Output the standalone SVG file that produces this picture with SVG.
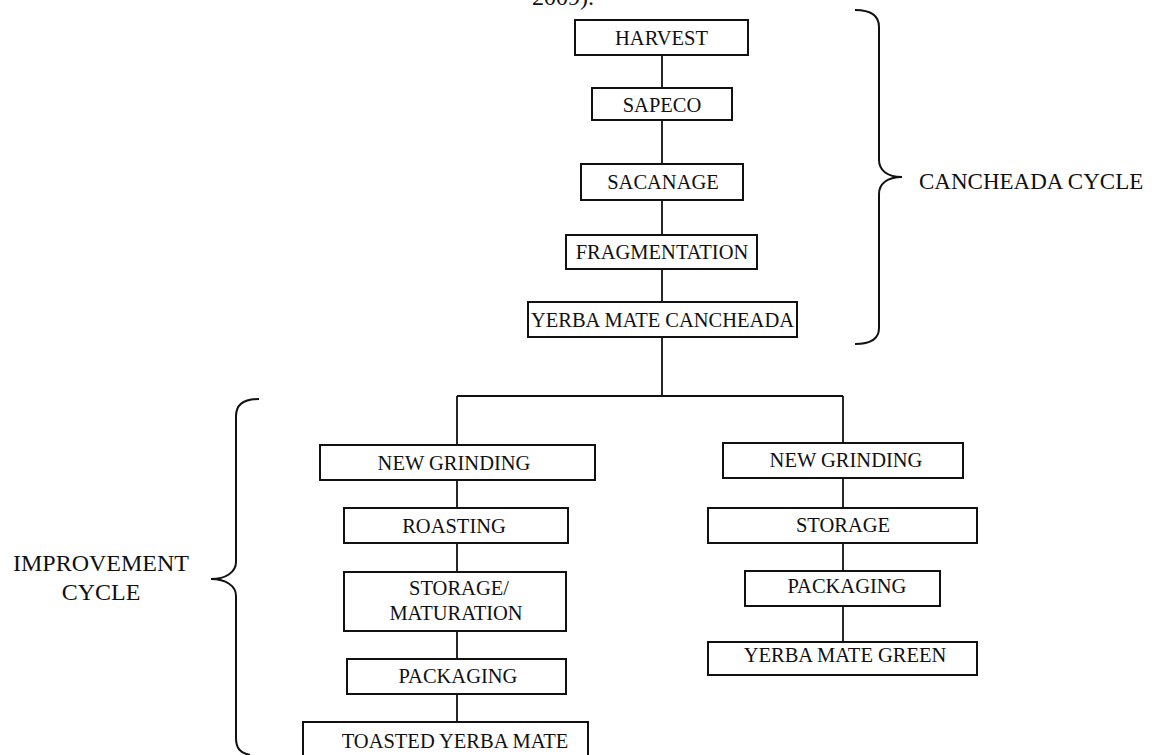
<svg xmlns="http://www.w3.org/2000/svg" width="1161" height="755" viewBox="0 0 1161 755">
<style>
text{font-family:"Liberation Serif","Times New Roman",serif;fill:#111;}
.n rect{fill:#fff;stroke:#111;stroke-width:2;}
.n text{font-size:20.5px;text-anchor:middle;}
.c{stroke:#111;stroke-width:1.8;fill:none;}
.b{stroke:#111;stroke-width:2;fill:none;}
.lbl{font-size:23.5px;}
</style>
<rect width="1161" height="755" fill="#fff"/>
<text x="532" y="5" style="font-size:24px">2009).</text>

<g id="connectors">
<path class="c" d="M662 55V88M662 120V164M662 200V235M662 269V302M662 337V396M457 396H843M457 396V445M457 480V508M457 543V572M457 631V659M457 694V722M843 396V443M843 478V508M843 543V571M843 606V642"/>
</g>

<g id="harvest" class="n"><rect x="575" y="20" width="173" height="35"/><text x="661.5" y="45">HARVEST</text></g>
<g id="sapeco" class="n"><rect x="592" y="88" width="140" height="32"/><text x="662" y="112">SAPECO</text></g>
<g id="sacanage" class="n"><rect x="581" y="164" width="162" height="36"/><text x="663" y="189">SACANAGE</text></g>
<g id="fragmentation" class="n"><rect x="566" y="235" width="191" height="34"/><text x="662" y="259">FRAGMENTATION</text></g>
<g id="cancheada" class="n"><rect x="528" y="302" width="269" height="35"/><text x="662.5" y="327">YERBA MATE CANCHEADA</text></g>

<g id="newgrinding-left" class="n"><rect x="320" y="445" width="275" height="35"/><text x="454" y="470">NEW GRINDING</text></g>
<g id="roasting" class="n"><rect x="344" y="508" width="224" height="35"/><text x="454" y="533">ROASTING</text></g>
<g id="storage-maturation" class="n"><rect x="344" y="572" width="222" height="59"/><text x="459" y="595">STORAGE/</text><text x="456" y="620">MATURATION</text></g>
<g id="packaging-left" class="n"><rect x="347" y="659" width="219" height="35"/><text x="458" y="683">PACKAGING</text></g>
<g id="toasted" class="n"><rect x="303" y="722" width="285" height="45"/><text x="455" y="748">TOASTED YERBA MATE</text></g>

<g id="newgrinding-right" class="n"><rect x="723" y="443" width="240" height="35"/><text x="846" y="467">NEW GRINDING</text></g>
<g id="storage" class="n"><rect x="708" y="508" width="269" height="35"/><text x="843" y="532">STORAGE</text></g>
<g id="packaging-right" class="n"><rect x="745" y="571" width="195" height="35"/><text x="847" y="593">PACKAGING</text></g>
<g id="green" class="n"><rect x="708" y="642" width="269" height="33"/><text x="845" y="662">YERBA MATE GREEN</text></g>

<g id="cancheada-cycle">
<path class="b" d="M855 10C870 10 879 15 879 27V160C879 170 887 177 902 177C887 177 879 184 879 194V328C879 339 870 344 855 344"/>
<text class="lbl" x="919" y="189" style="font-size:23px">CANCHEADA CYCLE</text>
</g>

<g id="improvement-cycle">
<path class="b" d="M259 399C244 399 236 405 236 416V562C236 572 226 579 211 579C226 579 236 586 236 596V738C236 748 240 753 250 755"/>
<text class="lbl" x="101" y="571" text-anchor="middle" style="font-size:24px">IMPROVEMENT</text>
<text class="lbl" x="101" y="600" text-anchor="middle" style="font-size:24px">CYCLE</text>
</g>
</svg>
